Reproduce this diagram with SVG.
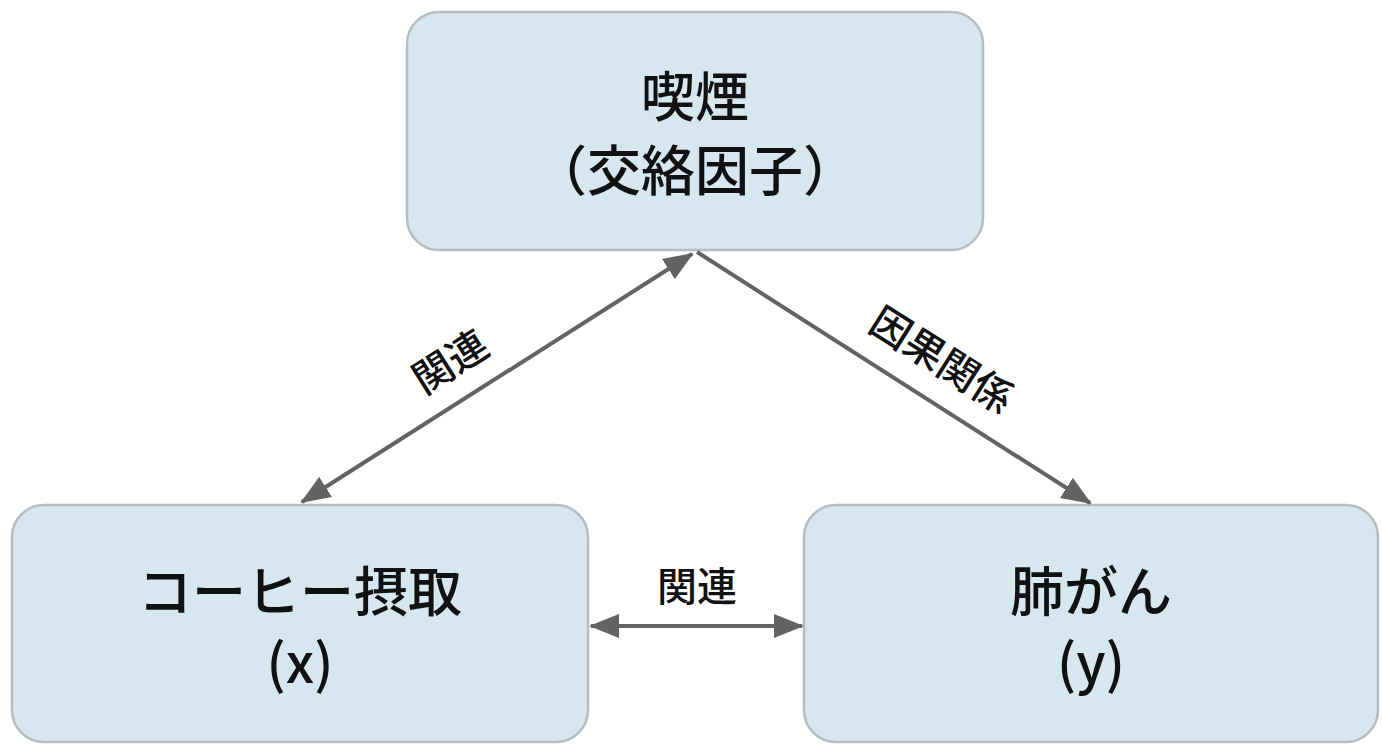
<svg xmlns="http://www.w3.org/2000/svg" width="1382" height="752" viewBox="0 0 1382 752">
<defs>
<style>
.box{fill:#d6e7f0;stroke:#b8bcbf;stroke-width:2.5}
.t{font-family:"Noto Sans CJK JP","Noto Sans",sans-serif;font-size:54px;font-weight:500;fill:#111;text-anchor:middle}
.l{font-family:"Noto Sans CJK JP","Noto Sans",sans-serif;font-size:40px;font-weight:500;fill:#111;text-anchor:middle}
.c{stroke:#636363;stroke-width:4;fill:none}
</style>
<marker id="h" markerWidth="30" markerHeight="24" refX="28" refY="12" orient="auto-start-reverse" markerUnits="userSpaceOnUse">
<path d="M0,0 L30,12 L0,24 z" fill="#636363"/>
</marker>
</defs>
<rect width="1382" height="752" fill="#fff"/>
<g id="smoking"><rect class="box" x="407" y="12" width="576" height="238" rx="32"/>
<text class="t" x="695" y="117">喫煙</text><text class="t" x="695" y="191">（交絡因子）</text></g>
<g id="coffee"><rect class="box" x="12" y="505" width="576" height="237" rx="32"/>
<text class="t" x="300" y="612">コーヒー摂取</text><text class="t" x="300" y="683">(x)</text></g>
<g id="cancer"><rect class="box" x="804" y="505" width="574" height="237" rx="32"/>
<text class="t" x="1091" y="612">肺がん</text><text class="t" x="1091" y="683">(y)</text></g>
<g id="connectors">
<line class="c" x1="692" y1="254" x2="302" y2="502" marker-start="url(#h)" marker-end="url(#h)"/>
<line class="c" x1="697" y1="252" x2="1090" y2="503" marker-end="url(#h)"/>
<line class="c" x1="591" y1="626" x2="802" y2="626" marker-start="url(#h)" marker-end="url(#h)"/>
<text class="l" transform="translate(458,374) rotate(-32.4)">関連</text>
<text class="l" transform="translate(934,372) rotate(32.4)">因果関係</text>
<text class="l" x="697" y="601">関連</text>
</g>
</svg>
